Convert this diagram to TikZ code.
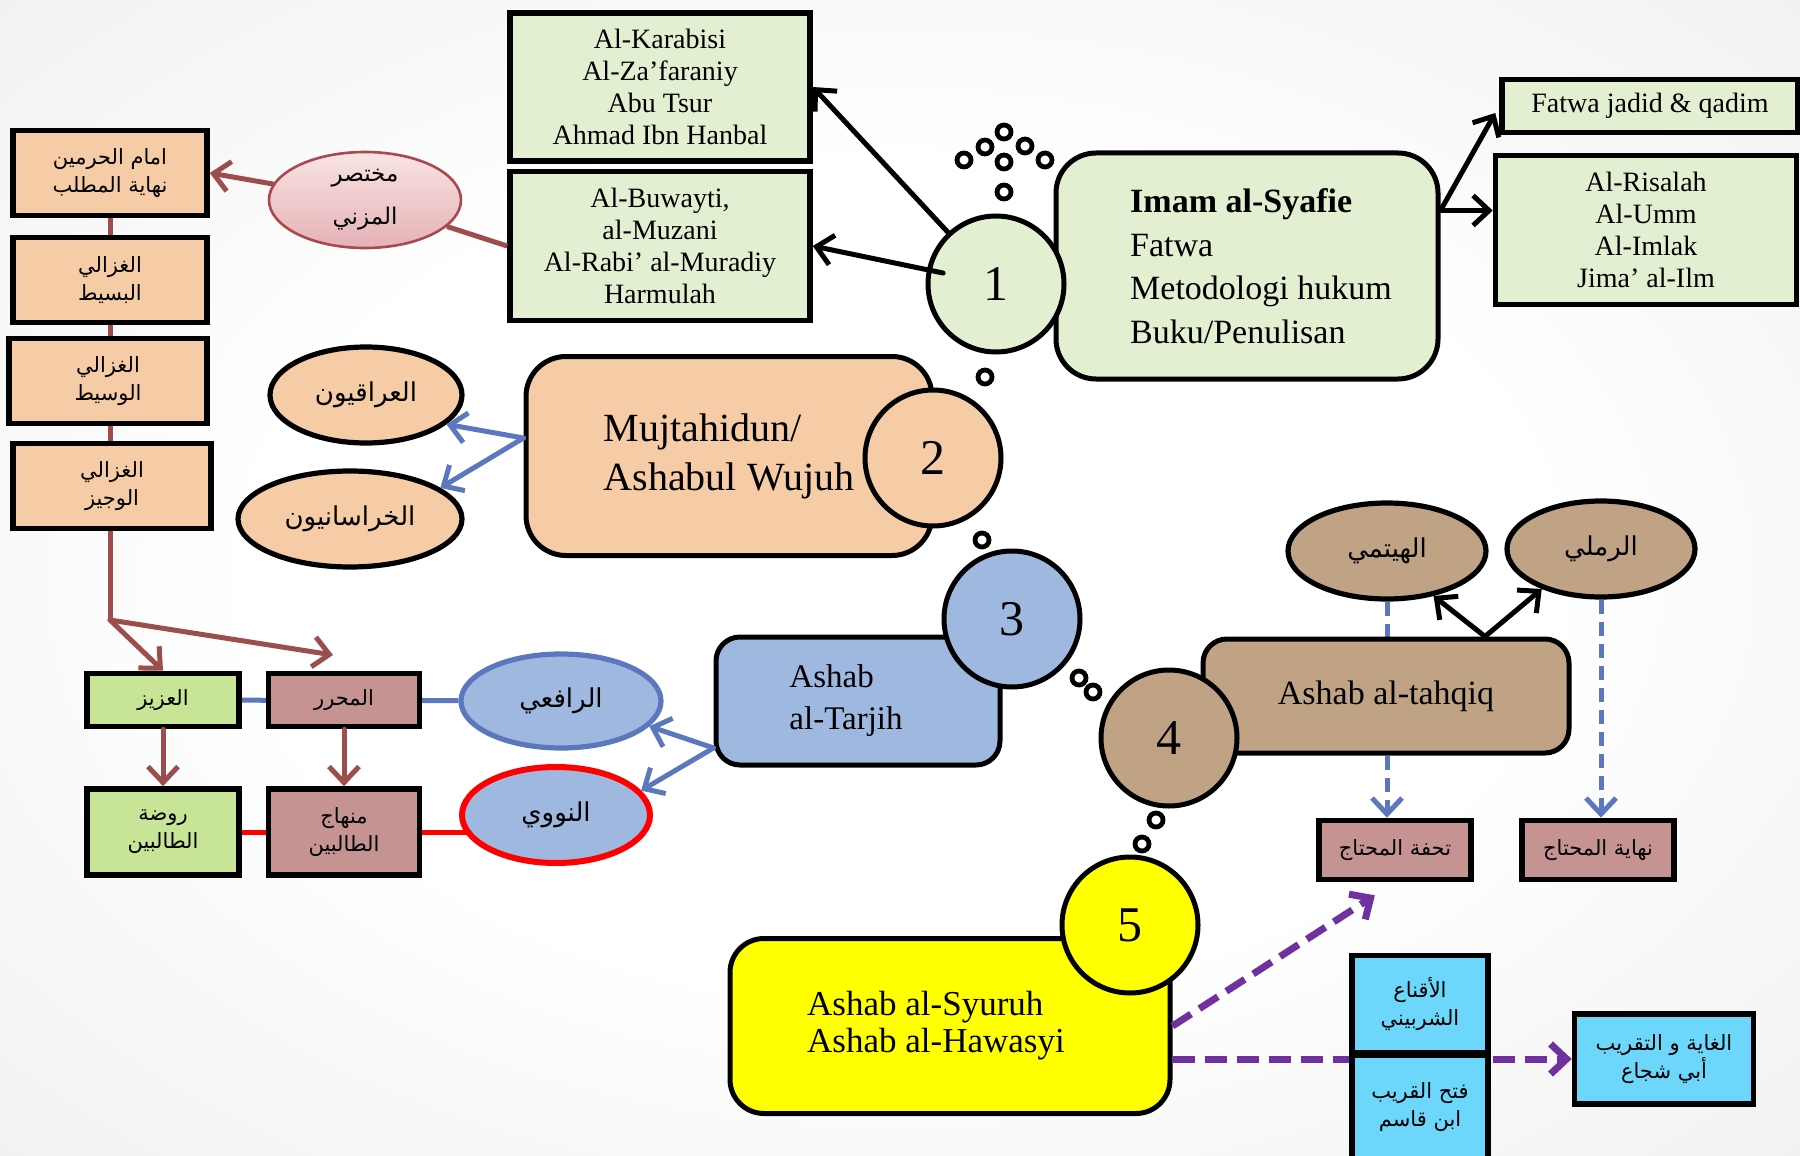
\documentclass[tikz,border=0pt]{standalone}
\usepackage{fontspec}
\setmainfont{Liberation Serif}
\newfontfamily\arabicfont[Script=Arabic]{DejaVu Sans}
\TeXXeTstate=1
\usepackage{tikz}
\usetikzlibrary{shapes.geometric,arrows.meta,positioning,calc,backgrounds}
\definecolor{syafiegreen}{HTML}{E2EFD0}
\definecolor{wujuhpeach}{HTML}{F5CCA6}
\definecolor{tarjihblue}{HTML}{9EB8E0}
\definecolor{tahqiqbrown}{HTML}{C0A285}
\definecolor{syuruhyellow}{HTML}{FFFF00}
\definecolor{kitabrose}{HTML}{C69393}
\definecolor{kitabgreen}{HTML}{C8E496}
\definecolor{kitabcyan}{HTML}{6CD6FB}
\definecolor{linkred}{HTML}{9C4E4E}
\definecolor{linkblue}{HTML}{5B78BE}
\definecolor{linkpurple}{HTML}{7030A0}
\definecolor{mukhtop}{HTML}{F8E4E4}
\definecolor{mukhbottom}{HTML}{E6B1B5}
\definecolor{mukhedge}{HTML}{A8494E}
\newcommand{\rtl}[1]{\beginR#1\endR}
\pgfdeclareradialshading{vignette}{\pgfpoint{0bp}{0bp}}{color(0bp)=(white); color(18bp)=(white); color(50bp)=(black!10); color(72bp)=(black!15)}

\begin{document}
\begin{tikzpicture}[
    x=0.5pt, y=-0.5pt,
    stage/.style={
        rectangle,
        rounded corners=20pt,
        draw,
        line width=2.5pt,
        inner sep=0pt,
        align=left
    },
    level/.style={
        circle,
        draw,
        line width=2.5pt,
        minimum size=68pt,
        font=\fontsize{25}{25}\selectfont
    },
    kitab/.style={
        rectangle,
        draw,
        line width=2.8pt,
        inner sep=0pt,
        align=center,
        fill=syafiegreen,
        font=\fontsize{14}{16}\selectfont
    },
    arkitab/.style={
        kitab,
        font=\arabicfont\fontsize{10.5}{14}\selectfont
    },
    alim/.style={
        ellipse,
        draw,
        line width=2.6pt,
        inner sep=0pt,
        align=center,
        font=\arabicfont\fontsize{13}{15}\selectfont
    },
    stagetext/.style={
        align=left,
        font=\fontsize{17}{21.8}\selectfont
    },
    bubble/.style={
        circle,
        draw,
        fill=white,
        line width=2.4pt,
        minimum size=7pt,
        inner sep=0pt
    },
    arrow/.style={
        -{Straight Barb[length=8pt,width=15pt]},
        line width=2.5pt,
        line cap=round
    },
    redarrow/.style={arrow, color=linkred},
    bluearrow/.style={arrow, line width=2.5pt, color=linkblue},
    dasharrow/.style={bluearrow, line cap=butt, dash pattern=on 7pt off 4pt},
    purplearrow/.style={arrow, line width=3.5pt, line cap=butt, color=linkpurple, dash pattern=on 11pt off 5pt}
]

% Backdrop
\useasboundingbox (0,0) rectangle (1800,1156);
\begin{scope}[on background layer]
    \shade[shading=vignette] (0,0) rectangle (1800,1156);
\end{scope}

% Level 1: Imam al-Syafie
\node[kitab, minimum width=150pt, minimum height=74pt] (murid1) at (660,87) {Al-Karabisi\\Al-Za’faraniy\\Abu Tsur\\Ahmad Ibn Hanbal};
\node[kitab, minimum width=150pt, minimum height=74.5pt] (murid2) at (660,246) {Al-Buwayti,\\al-Muzani\\Al-Rabi’ al-Muradiy\\Harmulah};
\node[stage, fill=syafiegreen, minimum width=191pt, minimum height=113pt,
      label={[stagetext, xshift=7pt]center:{\textbf{Imam al-Syafie}\\Fatwa\\Metodologi hukum\\Buku/Penulisan}}] (imam) at (1247,266) {};
\node[level, fill=syafiegreen] (level1) at (996,284) {1};
\node[kitab, minimum width=148pt, minimum height=26.5pt] (fatwa) at (1650,106) {Fatwa jadid \& qadim};
\node[kitab, minimum width=150.5pt, minimum height=74.5pt] (kutub) at (1646,230) {Al-Risalah\\Al-Umm\\Al-Imlak\\Jima’ al-Ilm};

% Level 2: Mujtahidun
\node[stage, fill=wujuhpeach, minimum width=203pt, minimum height=99.5pt, font=\fontsize{20}{24.5}\selectfont] (wujuh) at (729,456) {Mujtahidun/\\Ashabul Wujuh};
\node[level, fill=wujuhpeach] (level2) at (933,458) {2};
\node[alim, fill=wujuhpeach, minimum width=96pt, minimum height=48pt] (iraqi) at (366,395) {\rtl{العراقيون}};
\node[alim, fill=wujuhpeach, minimum width=112pt, minimum height=48pt] (khurasani) at (350,519) {\rtl{الخراسانيون}};
\node[alim, draw=mukhedge, line width=1.3pt, top color=mukhtop, bottom color=mukhbottom, minimum width=96pt, minimum height=48pt,
      font=\arabicfont\fontsize{11.5}{21.5}\selectfont] (mukhtasar) at (365,200) {\rtl{مختصر}\\\rtl{المزني}};

% Kitab chain on the left
\node[arkitab, fill=wujuhpeach, minimum width=97pt, minimum height=42.5pt] (haramain) at (110,173) {\rtl{امام الحرمين}\\\rtl{نهاية المطلب}};
\node[arkitab, fill=wujuhpeach, minimum width=97pt, minimum height=42.5pt] (basit) at (110,280) {\rtl{الغزالي}\\\rtl{البسيط}};
\node[arkitab, fill=wujuhpeach, minimum width=99pt, minimum height=42.5pt] (wasit) at (108,381) {\rtl{الغزالي}\\\rtl{الوسيط}};
\node[arkitab, fill=wujuhpeach, minimum width=99pt, minimum height=42.5pt] (wajiz) at (112,486) {\rtl{الغزالي}\\\rtl{الوجيز}};
\coordinate (split) at (110,620);
\coordinate (muharrartip) at (333,655);

% Level 3: Ashab al-Tarjih
\node[stage, rounded corners=12pt, fill=tarjihblue, minimum width=142pt, minimum height=64pt,
      label={[stagetext, xshift=-6pt, font=\fontsize{16.5}{21}\selectfont]center:{Ashab\\al-Tarjih}}] (tarjih) at (858,701) {};
\node[level, fill=tarjihblue] (level3) at (1012,619) {3};
\node[alim, fill=tarjihblue, draw=linkblue, minimum width=100pt, minimum height=47pt] (rafii) at (561,701) {\rtl{الرافعي}};
\node[alim, fill=tarjihblue, draw=red, line width=3pt, minimum width=94pt, minimum height=48pt] (nawawi) at (556,815) {\rtl{النووي}};
\node[arkitab, fill=kitabgreen, minimum width=76pt, minimum height=26.5pt] (aziz) at (163,700) {\rtl{العزيز}};
\node[arkitab, fill=kitabrose, minimum width=75.5pt, minimum height=26.5pt] (muharrar) at (344,700) {\rtl{المحرر}};
\node[arkitab, fill=kitabgreen, minimum width=76pt, minimum height=43pt] (rawdah) at (163,832) {\rtl{روضة}\\\rtl{الطالبين}};
\node[arkitab, fill=kitabrose, minimum width=75.5pt, minimum height=43pt] (minhaj) at (344,832) {\rtl{منهاج}\\\rtl{الطالبين}};

% Level 4: Ashab al-tahqiq
\node[stage, rounded corners=12pt, fill=tahqiqbrown, minimum width=183pt, minimum height=57pt, align=center, font=\fontsize{17}{21}\selectfont] (tahqiq) at (1386,696) {Ashab al-tahqiq};
\node[level, fill=tahqiqbrown] (level4) at (1169,738) {4};
\node[alim, fill=tahqiqbrown, minimum width=99pt, minimum height=48pt] (haytami) at (1387,551) {\rtl{الهيتمي}};
\node[alim, fill=tahqiqbrown, minimum width=94pt, minimum height=48pt] (ramli) at (1601,549) {\rtl{الرملي}};
\node[arkitab, fill=kitabrose, minimum width=76pt, minimum height=29.5pt] (tuhfah) at (1395,850) {\rtl{تحفة المحتاج}};
\node[arkitab, fill=kitabrose, minimum width=76pt, minimum height=29.5pt] (nihayah) at (1598,850) {\rtl{نهاية المحتاج}};

% Level 5: Ashab al-Syuruh
\node[stage, rounded corners=17pt, fill=syuruhyellow, minimum width=220pt, minimum height=87.5pt,
      label={[stagetext, xshift=-7pt, font=\fontsize{17.5}{18.5}\selectfont]center:{Ashab al-Syuruh\\Ashab al-Hawasyi}}] (syuruh) at (950,1026) {};
\node[level, fill=syuruhyellow] (level5) at (1130,925) {5};
\node[arkitab, fill=kitabcyan, minimum width=68pt, minimum height=48.5pt] (iqna) at (1420,1004) {\rtl{الأقناع}\\\rtl{الشربيني}};
\node[arkitab, fill=kitabcyan, minimum width=68pt, minimum height=51.5pt] (fath) at (1420,1107) {\rtl{فتح القريب}\\\rtl{ابن قاسم}};
\node[arkitab, fill=kitabcyan, minimum width=89.5pt, minimum height=45pt] (ghayah) at (1664,1059) {\rtl{الغاية و التقريب}\\\rtl{أبي شجاع}};

% Thought bubbles between the levels
\foreach \bx/\by [count=\i] in {964/160, 985/147, 1004/132, 1025/146, 1045/160, 1004/162, 1004/192, 985/377, 982/540, 1079/678, 1093/692, 1156/820, 1142/844}
    \node[bubble] (bubble\i) at (\bx,\by) {};

% Lines running behind the boxes
\begin{scope}[on background layer]
    \draw[line width=2.5pt, color=linkred] (haramain) -- (split);
    \draw[line width=2.5pt, color=linkblue] (aziz) -- (rafii);
    \draw[line width=2.5pt, color=red] (rawdah) -- (rawdah -| nawawi);
    \draw[dasharrow] (haytami.south) -- (haytami.south |- tuhfah.north);
    \draw[dasharrow] (ramli.south) -- (ramli.south |- nihayah.north);
    \draw[purplearrow] (syuruh.east |- ghayah.west) -- (ghayah.west);
\end{scope}

% Arrows out of level 1
\draw[arrow] (level1) -- (murid1.east);
\draw[arrow, shorten <=27pt] (level1.center) -- (murid2.east);
\draw[arrow, shorten >=4pt] (imam.16) -- (fatwa.west);
\draw[arrow] (imam.16) -- (imam.16 -| kutub.west);

% Mukhtasar and the left chain
\draw[line width=2.5pt, color=linkred] (murid2.west) -- (mukhtasar);
\draw[redarrow] (mukhtasar) -- (haramain.east);
\draw[redarrow] (split) -- (aziz.north);
\draw[redarrow] (split) -- (muharrartip);
\foreach \from/\to in {aziz/rawdah, muharrar/minhaj}
    \draw[redarrow] (\from) -- (\to);

% Blue arrows out of levels 2 and 3
\draw[bluearrow] (wujuh.175) -- (iraqi.-20);
\draw[bluearrow] (wujuh.175) -- (khurasani.19);
\draw[bluearrow] (tarjih.198) -- (rafii.-16);
\draw[bluearrow] (tarjih.198) -- (nawawi.16);

% Level 4 and 5 arrows
\draw[arrow] (tahqiq.31) -- (haytami.-44);
\draw[arrow] (tahqiq.31) -- (ramli.-146);
\draw[purplearrow, shorten >=12pt] (syuruh.east) -- (tuhfah.south);

\end{tikzpicture}
\end{document}
